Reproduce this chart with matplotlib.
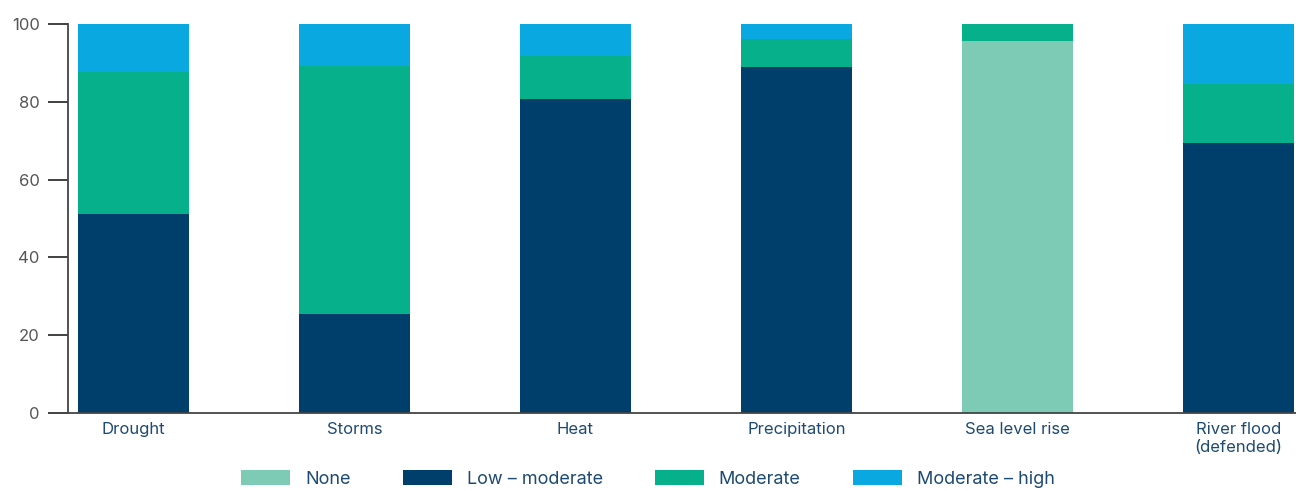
import matplotlib.pyplot as plt
from matplotlib.patches import Patch

plt.rcParams['font.family'] = ['Inter', 'DejaVu Sans']

hazards = ['Drought', 'Storms', 'Heat', 'Precipitation', 'Sea level rise', 'River flood\n(defended)']
none = [0, 0, 0, 0, 95.6, 0]
low_moderate = [51.0, 25.3, 80.7, 88.9, 0, 69.3]
moderate = [36.6, 63.9, 11.1, 7.2, 4.4, 15.3]
moderate_high = [12.4, 10.8, 8.2, 3.9, 0, 15.4]

names = ['None', 'Low \u2013 moderate', 'Moderate', 'Moderate \u2013 high']
colors = ['#7ecbb5', '#003f6b', '#05b08b', '#0aa8e0']

fig = plt.figure(figsize=(12.96, 4.91), dpi=100)
ax = fig.add_axes([0.0525, 0.1595, 0.9475, 0.7915])

x = list(range(len(hazards)))
bottom = [0] * len(hazards)
for vals, c in zip([none, low_moderate, moderate, moderate_high], colors):
    ax.bar(x, vals, 0.5, bottom=bottom, color=c, linewidth=0)
    bottom = [b + v for b, v in zip(bottom, vals)]

ax.set_xlim(-0.296, 5.26)
ax.set_ylim(0, 100)
ax.set_yticks([0, 20, 40, 60, 80, 100])
ax.set_xticks(x)
ax.set_xticklabels(hazards, color='#1d4a72', fontsize=12, linespacing=1.2)
ax.tick_params(axis='x', length=0, pad=7)
ax.tick_params(axis='y', length=14.4, width=1.3, color='#333333', labelcolor='#555555',
               labelsize=12, pad=6)

for s in ['top', 'right']:
    ax.spines[s].set_visible(False)
for s in ['left', 'bottom']:
    ax.spines[s].set_color('#444444')
    ax.spines[s].set_linewidth(1.3)

handles = [Patch(facecolor=c, edgecolor='none') for c in colors]
leg = fig.legend(handles, names, loc='center', bbox_to_anchor=(0.5, 0.024), ncol=4,
                 frameon=False, fontsize=13, handlelength=2.7, handleheight=0.9,
                 handletextpad=0.83, columnspacing=2.9, borderpad=0.1)
for t in leg.get_texts():
    t.set_color('#1d4a72')

fig.savefig('out.png', dpi=100)
